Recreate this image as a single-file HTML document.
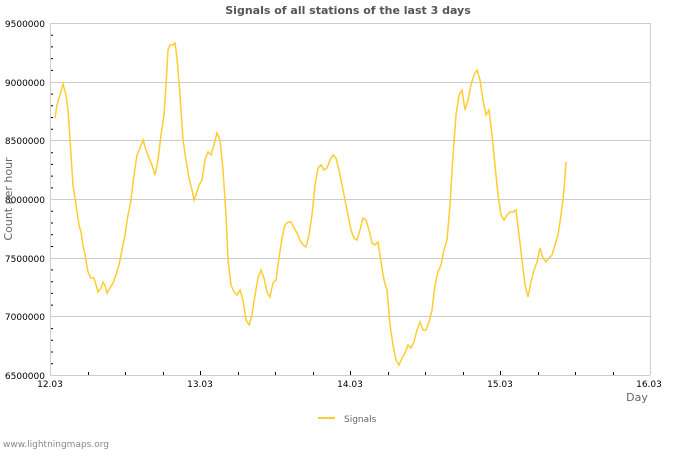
<!DOCTYPE html>
<html><head><meta charset="utf-8"><style>
body{margin:0;background:#fff;}
svg{display:block;font-family:"DejaVu Sans","Liberation Sans",sans-serif;}
</style></head><body>
<svg width="700" height="450" viewBox="0 0 700 450">
<text x="348" y="14" text-anchor="middle" font-size="11" font-weight="bold" fill="#555">Signals of all stations of the last 3 days</text>
<g stroke="#ccc" stroke-width="1">
<line x1="50" y1="23.5" x2="650" y2="23.5"/>
<line x1="50" y1="82.5" x2="650" y2="82.5"/>
<line x1="50" y1="140.5" x2="650" y2="140.5"/>
<line x1="50" y1="199.5" x2="650" y2="199.5"/>
<line x1="50" y1="258.5" x2="650" y2="258.5"/>
<line x1="50" y1="316.5" x2="650" y2="316.5"/>
<line x1="50" y1="375.5" x2="650" y2="375.5"/>
<line x1="50.5" y1="23" x2="50.5" y2="375"/>
<line x1="650.5" y1="23" x2="650.5" y2="375"/>
</g>
<g stroke="#000" stroke-width="1" id="yt"></g>
<g stroke="#000" stroke-width="1">
<path d="M51 35.2h2M51 46.9h2M51 58.6h2M51 70.4h2M51 94.1h2M51 105.8h2M51 117.5h2M51 129.3h2M51 152.7h2M51 164.4h2M51 176.1h2M51 187.9h2M51 211.3h2M51 223h2M51 234.8h2M51 246.5h2M51 269.9h2M51 281.7h2M51 293.4h2M51 305.1h2M51 328.6h2M51 340.3h2M51 352h2M51 363.7h2"/>
<path d="M88.5 372v3M125.5 372v3M163.5 372v3M200.5 371v4M238.5 372v3M275.5 372v3M313.5 372v3M350.5 371v4M388.5 372v3M425.5 372v3M463.5 372v3M500.5 371v4M538.5 372v3M575.5 372v3M613.5 372v3"/>
</g>
<g font-size="9" fill="#000" text-anchor="end">
<text x="45" y="27">9500000</text><text x="45" y="86">9000000</text><text x="45" y="144">8500000</text><text x="45" y="203">8000000</text><text x="45" y="262">7500000</text><text x="45" y="320">7000000</text><text x="45" y="379">6500000</text>
</g>
<g font-size="9" fill="#000" text-anchor="middle">
<text x="50" y="387">12.03</text><text x="200" y="387">13.03</text><text x="350" y="387">14.03</text><text x="500" y="387">15.03</text><text x="649" y="387">16.03</text>
</g>
<text x="637" y="401" text-anchor="middle" font-size="11" fill="#666">Day</text>
<text transform="translate(12,199) rotate(-90)" text-anchor="middle" font-size="11" fill="#666">Count per hour</text>
<polyline fill="none" stroke="#ffcc33" stroke-width="1.5" points="55,118 57,105 60,95 63,84 66,95 68,110 70,140 73,185 76,205 79,225 81,232 83,245 85,255 88,272 91,278 94,278 96,285 98,292 101,288 103,282 105,285 107,293 110,288 113,283 116,275 119,265 122,250 125,235 128,215 131,200 134,175 137,155 140,148 143,140 146,150 149,158 152,165 155,175 158,160 161,135 164,115 166,85 168,50 170,45 173,45 175,43 177,58 180,95 183,140 186,160 189,178 192,190 194,200 196,195 199,185 202,180 205,160 208,152 211,155 214,145 217,133 220,140 223,170 226,215 228,260 231,285 234,292 237,295 240,290 243,300 246,320 249,325 252,315 255,295 258,278 261,270 264,278 267,292 270,297 273,283 276,280 279,258 282,238 285,225 288,222 291,222 294,228 297,233 300,240 303,245 306,247 309,235 312,215 315,185 318,168 321,165 324,170 327,168 330,160 333,155 336,158 339,170 342,185 345,200 348,215 351,230 354,238 357,240 360,230 363,218 366,220 369,230 372,243 375,245 378,242 381,262 384,280 387,290 390,325 393,345 396,360 399,365 402,358 405,353 408,345 411,348 414,342 417,330 420,322 423,330 426,330 429,322 432,310 435,285 438,272 441,265 444,250 447,240 450,205 453,155 456,115 459,95 462,90 465,110 468,100 471,85 474,75 477,70 480,80 483,100 486,115 489,110 492,135 495,165 498,195 501,215 504,220 507,215 510,212 513,212 516,210 519,235 522,260 525,285 528,297 531,282 534,270 537,262 540,248 543,258 546,262 549,258 552,255 555,245 558,235 561,215 564,190 566,162"/>
<line x1="318" y1="418" x2="335" y2="418" stroke="#ffcc33" stroke-width="2"/>
<text x="344" y="422" font-size="9" fill="#666">Signals</text>
<text x="3" y="447" font-size="9" fill="#888">www.lightningmaps.org</text>
</svg>
</body></html>
